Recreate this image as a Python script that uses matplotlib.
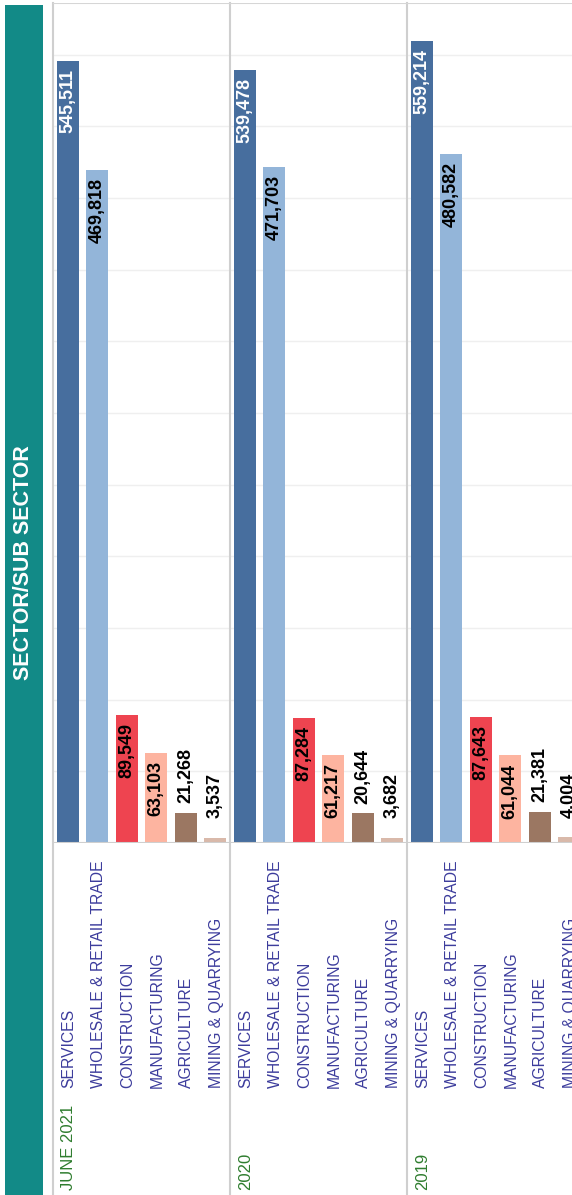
import matplotlib
matplotlib.use("Agg")
import matplotlib.pyplot as plt
from matplotlib.patches import Rectangle
import matplotlib.transforms as mtransforms

# Data
years = ['JUNE 2021', '2020', '2019']
sectors = ['SERVICES', 'WHOLESALE & RETAIL TRADE', 'CONSTRUCTION',
           'MANUFACTURING', 'AGRICULTURE', 'MINING & QUARRYING']
values_2021 = [545511, 469818, 89549, 63103, 21268, 3537]
values_2020 = [539478, 471703, 87284, 61217, 20644, 3682]
values_2019 = [559214, 480582, 87643, 61044, 21381, 4004]
all_values = [values_2021, values_2020, values_2019]

colors = ['#476e9e', '#93b5d9', '#ee4450', '#fdb4a0', '#9b7762', '#d9b9aa']

W, H = 572, 1195
fig = plt.figure(figsize=(W / 100, H / 100), dpi=100)
plt.rcParams['font.family'] = ['Liberation Sans', 'DejaVu Sans']

# teal banner on the left
fig.patches.append(Rectangle((5 / W, 0), 38 / W, (H - 5) / H, transform=fig.transFigure,
                             facecolor='#128a87', edgecolor='none'))
fig.text(24 / W, (H - 563) / H, 'SECTOR/SUB SECTOR', rotation=90, color='white',
         fontsize=15.5, fontweight='bold', ha='center', va='center')

# main pane: left 53px, right 584px (cut by figure), top 3px, baseline 843px
left, right, top, base = 53, 584, 3, 843
ax = fig.add_axes([left / W, (H - base) / H, (right - left) / W, (base - top) / H])
ymax = 586000
n = len(sectors)
ax.set_xlim(-0.5, n * len(years) - 0.5)
ax.set_ylim(0, ymax)
upp = ymax / (base - top)  # data units per pixel

for s in ax.spines.values():
    s.set_visible(False)
ax.set_xticks([])
ax.set_yticks([])
for g in range(50000, ymax, 50000):
    ax.axhline(g, color='#efefef', lw=1, zorder=0)

bottom_ax = (base - H) / (base - top)
for gi, (yr, vals) in enumerate(zip(years, all_values)):
    xs = [gi * n + i for i in range(n)]
    ax.bar(xs, vals, width=0.75, color=colors, zorder=2)
    for x, v, i in zip(xs, vals, range(n)):
        lab = f'{v:,}'
        if v > 40000:
            ax.text(x, v - 8 * upp, lab, rotation=90, ha='center', va='top',
                    fontsize=13, fontweight='bold',
                    color='white' if i == 0 else 'black', zorder=3)
        else:
            ax.text(x, v + 65 * upp, lab, rotation=90, ha='center', va='top',
                    fontsize=13, fontweight='bold', color='black', zorder=3)
    trans = mtransforms.blended_transform_factory(ax.transData, ax.transAxes)
    for x, name in zip(xs, sectors):
        ax.text(x + 0.03, (base - 1088) / (base - top), name, rotation=90, ha='center',
                va='bottom', fontsize=11.3, color='#3c3c9c', transform=trans, clip_on=False)
    ax.text(xs[0] + 0.03, (base - 1190) / (base - top), yr, rotation=90, ha='center',
            va='bottom', fontsize=12, color='#2f7d2f', transform=trans, clip_on=False)
    # group separator running through the label area
    ax.axvline(gi * n - 0.5, ymin=bottom_ax, ymax=1, color='#cfcfcf', lw=1.5,
               clip_on=False, zorder=1)

ax.axhline(0, color='#cfcfcf', lw=1.5, zorder=4)
ax.axhline(ymax, color='#d6d6d6', lw=1.5, zorder=4)

fig.savefig('out.png', dpi=100)
